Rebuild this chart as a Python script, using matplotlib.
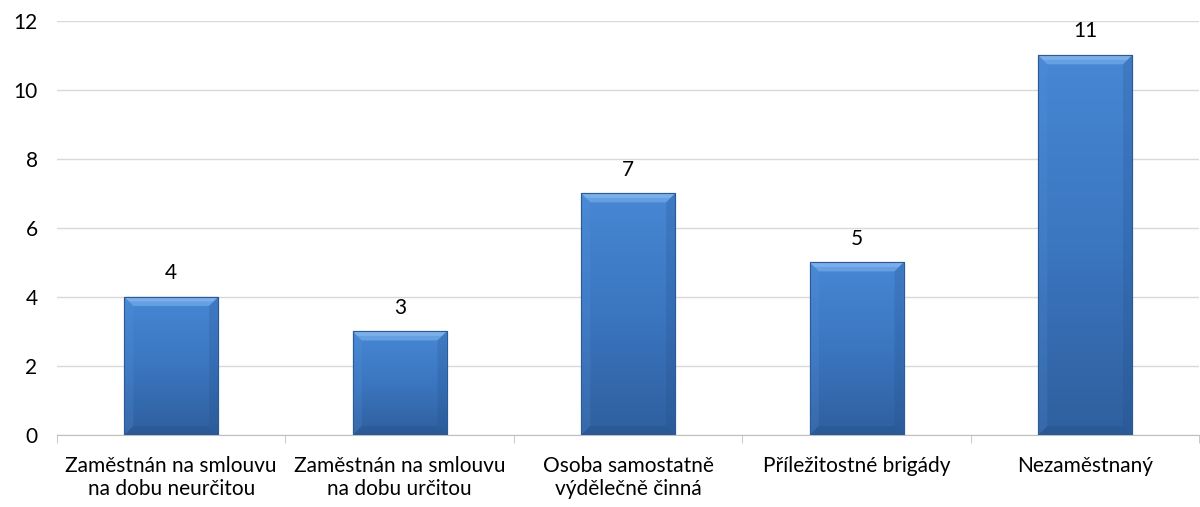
import numpy as np
import matplotlib.pyplot as plt
from matplotlib.colors import LinearSegmentedColormap

plt.rcParams['font.family'] = ['Lato', 'DejaVu Sans']

categories = ["Zaměstnán na smlouvu\nna dobu neurčitou",
              "Zaměstnán na smlouvu\nna dobu určitou",
              "Osoba samostatně\nvýdělečně činná",
              "Příležitostné brigády",
              "Nezaměstnaný"]
values = [4, 3, 7, 5, 11]

fig = plt.figure(figsize=(12, 5.07), dpi=100)
ax = fig.add_axes([0.0475, 0.142, 0.952, 0.817])

x = np.arange(len(categories))
bars = ax.bar(x, values, width=0.41, color='#3d78c4', edgecolor='#2b5a96',
              linewidth=0.8, zorder=3)

ax.set_xlim(-0.5, len(categories) - 0.5)
ax.set_ylim(0, 12)

# bevel sizes in data units (about 9 px)
dx = 9 * (len(categories) / (0.952 * 1200))
dy = 9 * (12 / (0.817 * 507))

# vertical gradient inside each bar, to mimic the Excel bevel look
cmap = LinearSegmentedColormap.from_list('blu', ['#2f5f9e', '#3b76c0', '#4787d4'])
grad = np.linspace(0, 1, 256).reshape(-1, 1)
for b in bars:
    x0, w, h = b.get_x(), b.get_width(), b.get_height()
    x1 = x0 + w
    im = ax.imshow(grad, cmap=cmap, origin='lower', aspect='auto',
                   extent=(x0, x1, 0, h), zorder=3.5)
    im.set_clip_path(b)
    # soft bevel faces
    ax.fill([x0, x1, x1 - dx, x0 + dx], [h, h, h - dy, h - dy],
            color='#7db3f0', alpha=0.6, lw=0, zorder=3.6)
    ax.fill([x0, x1, x1 - dx * 0.5, x0 + dx * 0.5], [h, h, h - dy * 0.5, h - dy * 0.5],
            color='#9cc6f5', alpha=0.4, lw=0, zorder=3.6)
    ax.fill([x0, x0 + dx, x0 + dx, x0], [h, h - dy, dy, 0],
            color='#5a96de', alpha=0.2, lw=0, zorder=3.6)
    ax.fill([x1, x1 - dx, x1 - dx, x1], [h, h - dy, dy, 0],
            color='#1f4a82', alpha=0.2, lw=0, zorder=3.6)
    ax.fill([x0, x1, x1 - dx, x0 + dx], [0, 0, dy, dy],
            color='#1f4a82', alpha=0.25, lw=0, zorder=3.6)
    ax.plot([x0, x1, x1, x0, x0], [0, 0, h, h, 0],
            color='#2b5a96', lw=0.8, zorder=3.7)
    ax.text(x0 + w / 2, h + 0.4, f'{h:g}', ha='center', va='bottom',
            fontsize=15, color='#000000')

ax.set_yticks(range(0, 13, 2))
ax.yaxis.grid(True, color='#d9d9d9', linewidth=1, zorder=0)
ax.set_axisbelow(True)

ax.set_xticks(x)
ax.set_xticklabels(categories, fontsize=15, linespacing=1.22)
ax.set_xticks(np.arange(-0.5, len(categories), 1), minor=True)
ax.tick_params(axis='x', which='major', length=0, pad=15)
ax.tick_params(axis='x', which='minor', length=6, color='#bfbfbf', direction='out')
ax.tick_params(axis='y', length=0, pad=14, labelsize=15)

for s in ['top', 'right', 'left']:
    ax.spines[s].set_visible(False)
ax.spines['bottom'].set_color('#bfbfbf')

fig.savefig('out.png', dpi=100)
